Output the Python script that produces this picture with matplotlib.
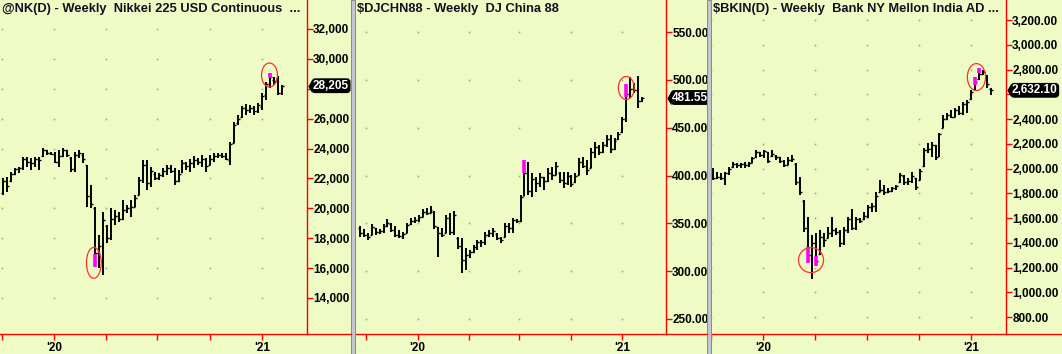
import pandas as pd
import numpy as np
import matplotlib
matplotlib.use("Agg")
import matplotlib.pyplot as plt
import matplotlib.dates as mdates
from matplotlib.patches import Ellipse, Rectangle
from matplotlib.lines import Line2D
from matplotlib.transforms import blended_transform_factory, offset_copy

plt.rcParams['font.family'] = ['Liberation Sans', 'DejaVu Sans']
plt.rcParams['font.weight'] = 'bold'

# ---------------- data ----------------
# Nikkei 225 USD, weekly bars
nk_dates = pd.date_range('2019-10-04', periods=71, freq='7D')
nk_open = [21000, 21850, 21800, 22300, 22600, 22700, 23300, 23100, 23000, 23300,
           23500, 23900, 23700, 23650, 23100, 23500, 23900, 23400, 22600, 23600,
           23600, 22900, 20800, 20000, 17000, 16500, 18800, 18000, 19300, 19500,
           19300, 19900, 20000, 20100, 20900, 21900, 22900, 21700, 22300, 22000,
           22200, 22500, 22700, 22500, 21800, 22400, 23000, 22800, 23000, 23200,
           23100, 23300, 22900, 23300, 23500, 23600, 23500, 23200, 24400, 25700,
           26100, 26700, 26600, 26700, 26500, 26800, 27600, 28300, 28600, 28700,
           27700]
nk_high = [22030, 22100, 22430, 22700, 22770, 23440, 23440, 23370, 23440, 23440,
           24040, 23900, 23770, 23770, 23900, 24040, 23900, 23440, 23770, 23900,
           23700, 22900, 21560, 20090, 18220, 19760, 18890, 20020, 19890, 19760,
           20560, 20220, 20560, 20890, 22100, 23240, 23240, 22770, 22430, 22370,
           22700, 22900, 22900, 22700, 22570, 23240, 23100, 23300, 23500, 23370,
           23570, 23370, 23570, 23700, 23700, 23700, 23700, 24440, 25780, 26250,
           26850, 26980, 26920, 26850, 27050, 27720, 28450, 29060, 28790, 28860,
           28250]
nk_low = [20900, 21100, 21770, 22230, 22370, 22570, 22770, 22570, 22770, 22570,
          23440, 23570, 23570, 23040, 22770, 23440, 23440, 22430, 22430, 23370,
          23040, 20090, 20020, 16080, 16010, 15540, 17680, 17880, 18890, 19090,
          19220, 19690, 19420, 20090, 20890, 21700, 21230, 21430, 21900, 21900,
          22100, 22230, 22370, 21560, 21760, 22370, 22570, 22430, 22700, 22900,
          22770, 22430, 22900, 23100, 23370, 23370, 23240, 22900, 24370, 25580,
          26050, 26250, 26380, 26250, 26380, 26580, 27250, 28050, 28250, 27590,
          27590]
nk_close = [21850, 21500, 22300, 22600, 22700, 23300, 23100, 23000, 23300, 23200,
            23900, 23700, 23650, 23100, 23500, 23900, 23600, 22600, 23600, 23700,
            23300, 20800, 20300, 17000, 17500, 19200, 18000, 19300, 19500, 19300,
            19900, 20000, 20100, 20700, 21900, 22900, 21700, 22500, 22000, 22200,
            22500, 22700, 22500, 21800, 22300, 23000, 22800, 23000, 23200, 23100,
            23300, 22800, 23300, 23500, 23600, 23500, 23300, 24300, 25600, 26000,
            26700, 26600, 26700, 26500, 26900, 27500, 28300, 28800, 28500, 27700,
            28205]
nk_mark_idx = [23, 67]
nk_mark_lo = [16080, 28720]
nk_mark_hi = [16950, 29060]

# DJ China 88, weekly bars
cn_dates = pd.date_range('2019-09-20', periods=73, freq='7D')
cn_open = [345, 340, 338, 338, 345, 341, 342, 347, 349, 343,
           338, 337, 340, 349, 352, 354, 357, 362, 361, 362,
           346, 340, 340, 356, 341, 335, 326, 312, 317, 320,
           325, 330, 331, 338, 340, 339, 335, 336, 347, 345,
           353, 352, 379, 403, 384, 396, 392, 398, 394, 403,
           401, 403, 395, 392, 400, 393, 401, 414, 410, 408,
           425, 430, 425, 432, 438, 428, 438, 445, 459, 485,
           490, 489, 478]
cn_high = [347.2, 344.1, 339.9, 349.3, 345.1, 344.1, 349.3, 354.5, 350.3, 347.2,
           343.0, 340.9, 350.3, 355.6, 356.6, 358.7, 365.0, 366.0, 368.1, 362.9,
           346.2, 345.1, 358.7, 360.8, 362.9, 335.7, 334.7, 324.2, 322.1, 327.4,
           332.6, 332.6, 340.9, 343.0, 345.1, 339.9, 335.7, 350.3, 350.3, 355.6,
           354.5, 379.6, 416.2, 414.1, 402.6, 398.4, 402.6, 398.4, 407.8, 408.9,
           414.1, 403.7, 403.7, 403.7, 400.5, 402.6, 418.3, 419.3, 416.2, 428.7,
           435.0, 431.9, 435.0, 442.3, 442.3, 439.2, 445.4, 461.1, 495.6, 502.9,
           496.7, 504.0, 482.0]
cn_low = [335.7, 335.7, 332.6, 337.8, 337.8, 338.9, 339.9, 346.2, 340.9, 335.7,
          334.7, 333.6, 339.9, 348.3, 350.3, 351.4, 356.6, 358.7, 360.8, 344.1,
          314.8, 335.7, 339.9, 337.8, 337.8, 323.2, 298.1, 301.2, 313.8, 319.0,
          322.1, 325.3, 327.4, 335.7, 335.7, 332.6, 329.5, 335.7, 339.9, 339.9,
          350.3, 351.4, 378.5, 379.6, 377.5, 382.7, 388.0, 384.8, 393.2, 395.3,
          400.5, 392.2, 386.9, 390.1, 388.0, 392.2, 400.5, 407.8, 400.5, 407.8,
          418.3, 421.4, 423.5, 429.8, 423.5, 426.7, 437.1, 444.4, 455.9, 481.0,
          486.2, 470.6, 476.8]
cn_close = [340, 338, 336, 346, 341, 342, 347, 350, 343, 338,
            337, 339, 348, 352, 354, 357, 362, 361, 364, 347,
            340, 338, 356, 341, 359, 326, 312, 317, 320, 325,
            330, 331, 338, 340, 342, 335, 333, 347, 345, 353,
            352, 378, 403, 384, 396, 392, 398, 394, 403, 401,
            410, 395, 392, 400, 391, 400, 414, 410, 406, 425,
            430, 425, 432, 438, 428, 436, 443, 459, 485, 490,
            489, 478, 481.55]
cn_mark_idx = [42, 68]
cn_mark_lo = [402.6, 482.0]
cn_mark_hi = [416.2, 495.6]

# Bank NY Mellon India ADR, weekly bars
bk_dates = pd.date_range('2019-10-04', periods=71, freq='7D')
bk_open = [1990, 1925, 1930, 1920, 1960, 2010, 2040, 2030, 2035, 2030,
           2045, 2090, 2130, 2110, 2130, 2100, 2100, 2090, 2060, 2030,
           2070, 2040, 1890, 1740, 1520, 1300, 1400, 1310, 1450, 1440,
           1480, 1500, 1490, 1400, 1500, 1590, 1520, 1590, 1590, 1620,
           1690, 1700, 1810, 1830, 1810, 1820, 1840, 1890, 1940, 1890,
           1900, 1920, 1910, 2020, 2150, 2160, 2190, 2100, 2330, 2400,
           2430, 2420, 2470, 2450, 2520, 2560, 2640, 2720, 2760, 2750,
           2640]
bk_high = [2004, 1972, 1964, 1972, 2012, 2052, 2044, 2044, 2052, 2052,
           2093, 2149, 2133, 2149, 2133, 2149, 2109, 2093, 2069, 2093,
           2109, 2044, 1931, 1745, 1608, 1463, 1479, 1503, 1479, 1527,
           1608, 1519, 1503, 1527, 1608, 1673, 1608, 1600, 1648, 1705,
           1721, 1810, 1907, 1867, 1842, 1850, 1867, 1964, 1947, 1923,
           1972, 1923, 1996, 2166, 2206, 2214, 2190, 2287, 2432, 2448,
           2473, 2489, 2505, 2537, 2554, 2634, 2739, 2812, 2796, 2756,
           2650]
bk_low = [1907, 1915, 1907, 1867, 1947, 2004, 2004, 2004, 2004, 2012,
          2044, 2085, 2093, 2085, 2044, 2093, 2069, 2044, 2012, 2028,
          2052, 1867, 1786, 1487, 1236, 1107, 1212, 1301, 1366, 1438,
          1446, 1463, 1366, 1382, 1479, 1503, 1503, 1560, 1584, 1600,
          1648, 1648, 1810, 1786, 1802, 1810, 1826, 1883, 1867, 1867,
          1883, 1826, 1907, 2012, 2125, 2093, 2069, 2093, 2327, 2392,
          2408, 2416, 2432, 2432, 2448, 2554, 2634, 2715, 2756, 2650,
          2594]
bk_close = [1925, 1930, 1920, 1960, 2000, 2040, 2030, 2035, 2030, 2045,
            2085, 2130, 2110, 2140, 2060, 2120, 2090, 2060, 2030, 2070,
            2080, 1890, 1810, 1520, 1300, 1400, 1250, 1450, 1420, 1480,
            1500, 1490, 1400, 1500, 1590, 1520, 1590, 1580, 1620, 1690,
            1700, 1780, 1830, 1810, 1820, 1840, 1860, 1950, 1890, 1900,
            1940, 1850, 1980, 2150, 2160, 2190, 2090, 2280, 2400, 2430,
            2420, 2470, 2450, 2520, 2540, 2620, 2700, 2760, 2780, 2680,
            2632.1]
bk_mark_idx = [24, 26, 66, 67]
bk_mark_lo = [1236, 1212, 2675, 2772]
bk_mark_hi = [1366, 1293, 2739, 2812]

quarters = ['2019-10-01', '2020-01-01', '2020-04-01', '2020-07-01', '2020-10-01', '2021-01-01']
quarter_labels = ['', "'20", '', '', '', "'21"]

nk_yticks = list(range(14000, 32001, 2000))
cn_yticks = list(range(250, 551, 50))
bk_yticks = list(range(800, 3201, 200))

# circles drawn around the highlighted bars: (center date, center value, width days, height)
nk_circles = [('2020-03-11', 16350, 26, 2070), ('2021-01-14', 28920, 28, 1600)]
cn_circles = [('2021-01-08', 491.5, 28.5, 24)]
bk_circles = [('2020-03-25', 1260, 44, 202), ('2021-01-10', 2739, 32, 218)]

# ---------------- drawing ----------------
W, H = 1062, 354
BG = '#EEFBC4'
TICK = 3.5  # days
FS = 8.5

fig = plt.figure(figsize=(W / 100, H / 100), dpi=100, facecolor=BG)


def draw_panel(x0, x1, x_end, title, dates, opens, highs, lows, closes,
               mark_idx, mark_lo, mark_hi, circles, yticks, fmt, xlim, ylim):
    ax = fig.add_axes([x0 / W, 20 / H, (x1 - x0) / W, 334 / H])
    ax.set_facecolor(BG)
    x = mdates.date2num(dates)

    # grid dots at tick intersections
    xq = mdates.date2num(pd.to_datetime(quarters))
    gx, gy = np.meshgrid(xq, yticks)
    ax.plot(gx.ravel(), gy.ravel(), ls='none', marker='s', ms=1.2, mew=0,
            color='#9FA898', zorder=1)

    ax.vlines(x, lows, highs, color='black', lw=1.4, zorder=3)
    ax.hlines(opens, x - TICK, x, color='black', lw=1.0, zorder=3)
    ax.hlines(closes, x, x + TICK, color='black', lw=1.0, zorder=3)
    ax.vlines(x[mark_idx], mark_lo, mark_hi, color='#FF00FF', lw=2.6, zorder=4)
    for d, v, w, h in circles:
        ax.add_patch(Ellipse((mdates.datestr2num(d), v), w, h, fill=False,
                             ec='#FF3030', lw=0.9, zorder=5))

    ax.set_xlim(mdates.datestr2num(xlim[0]), mdates.datestr2num(xlim[1]))
    ax.set_ylim(*ylim)

    for s in ['left', 'top']:
        ax.spines[s].set_visible(False)
    for s in ['right', 'bottom']:
        ax.spines[s].set_color('red')
        ax.spines[s].set_linewidth(1.0)

    # the last-price tag hides the scale label right beneath it
    last = closes[-1]
    hide = 13 / 334 * (ylim[1] - ylim[0])
    ax.yaxis.tick_right()
    ax.set_yticks(yticks)
    ax.set_yticklabels(['' if abs(v - last) < hide else fmt.format(v) for v in yticks])
    ax.tick_params(axis='y', direction='out', length=4, width=1, color='red',
                   labelcolor='black', labelsize=FS, pad=0.5)
    ax.set_xticks(xq)
    ax.set_xticklabels(quarter_labels)
    ax.tick_params(axis='x', direction='out', length=4, width=1, color='red',
                   labelcolor='black', labelsize=FS, pad=2)

    # bottom axis line continues under the price scale
    fig.add_artist(Line2D([x1 / W, x_end / W], [20 / H, 20 / H], color='red', lw=1.0))

    fig.text((x0 + 2) / W, 1 - 3 / H, title, ha='left', va='top', fontsize=9.3,
             color='#111122', parse_math=False)

    # last price tag
    trans = blended_transform_factory(ax.transAxes, ax.transData)
    ax.annotate(fmt.format(last), xy=(1, last), xycoords=trans, xytext=(6, 0),
                textcoords='offset pixels', ha='left', va='center', color='white',
                fontsize=FS, annotation_clip=False, zorder=10,
                bbox=dict(boxstyle='round,pad=0.06,rounding_size=0.25',
                          fc='black', ec='black'))
    ax.plot([1], [last], transform=offset_copy(trans, fig=fig, x=5, y=0, units='dots'),
            marker=[(0, -1), (0, 1), (-0.6, 0)], ms=10, mew=0, color='black',
            clip_on=False, zorder=10, scalex=False, scaley=False)
    return ax


draw_panel(0, 307, 351, '@NK(D) - Weekly  Nikkei 225 USD Continuous  ...',
           nk_dates, nk_open, nk_high, nk_low, nk_close,
           nk_mark_idx, nk_mark_lo, nk_mark_hi, nk_circles,
           nk_yticks, '{:,.0f}', ('2019-09-28', '2021-03-21'), (11590, 33940))

draw_panel(355, 666, 707, '$DJCHN88 - Weekly  DJ China 88',
           cn_dates, cn_open, cn_high, cn_low, cn_close,
           cn_mark_idx, cn_mark_lo, cn_mark_hi, cn_circles,
           cn_yticks, '{:.2f}', ('2019-09-11', '2021-03-20'), (234.3, 583.5))

draw_panel(711, 1006, 1062, '$BKIN(D) - Weekly  Bank NY Mellon India AD ...',
           bk_dates, bk_open, bk_high, bk_low, bk_close,
           bk_mark_idx, bk_mark_lo, bk_mark_hi, bk_circles,
           bk_yticks, '{:,.2f}', ('2019-10-01', '2021-03-03'), (663, 3362))

# panel separators
for sx in [351, 707]:
    fig.add_artist(Rectangle((sx / W, 0), 4 / W, 1, transform=fig.transFigure,
                             fc='#C3C7CF', ec='#858A93', lw=0.7))

fig.savefig('out.png', dpi=100, facecolor=BG)
